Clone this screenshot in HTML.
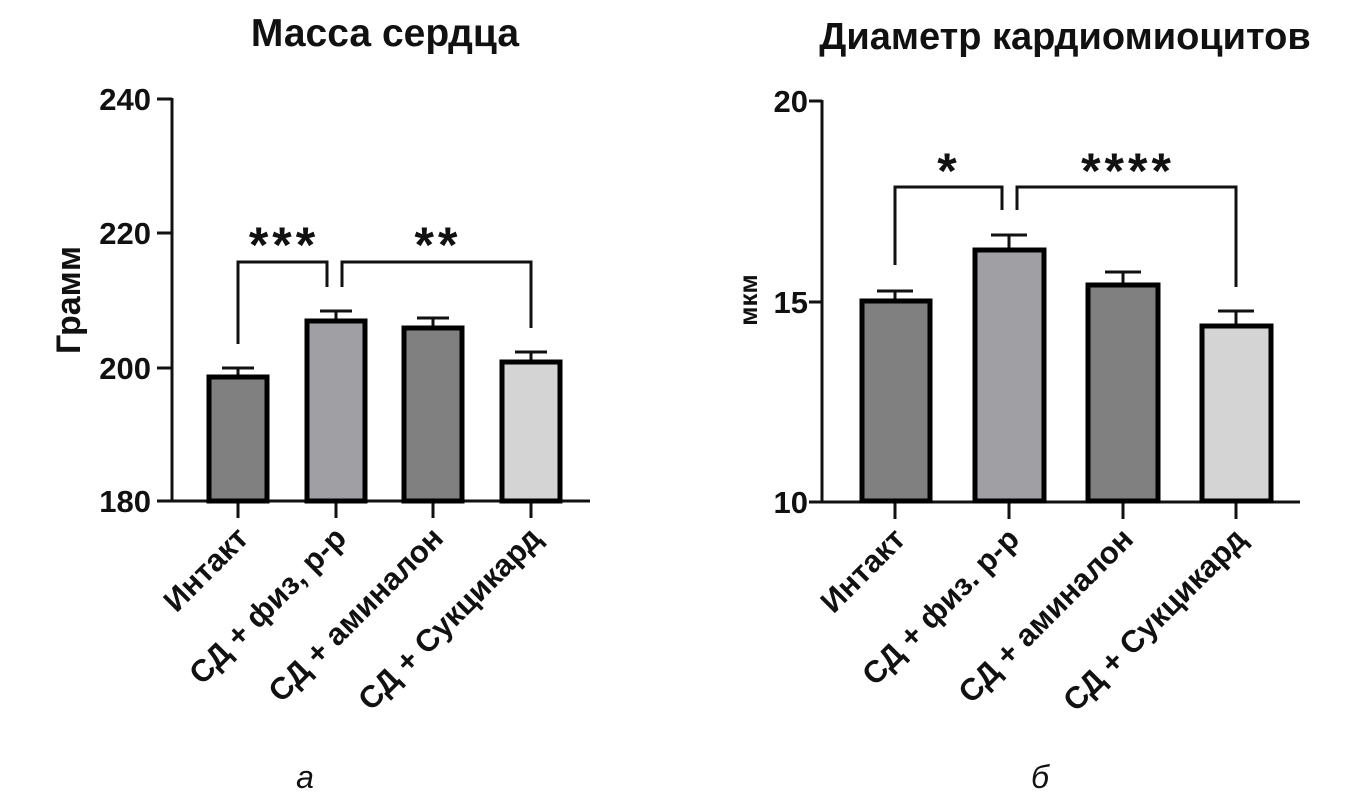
<!DOCTYPE html>
<html><head><meta charset="utf-8"><style>html,body{margin:0;padding:0;background:#fff}</style></head>
<body>
<svg width="1370" height="806" viewBox="0 0 1370 806" xmlns="http://www.w3.org/2000/svg" font-family="Liberation Sans, sans-serif">
<g font-weight="bold" fill="#111">
<text x="385" y="46" font-size="39" text-anchor="middle">Масса сердца</text>
<text x="1065" y="49" font-size="38" text-anchor="middle">Диаметр кардиомиоцитов</text>
</g>
<!-- LEFT -->
<g stroke="#111" stroke-width="3" fill="none">
<line x1="172" y1="98" x2="172" y2="502"/>
<line x1="172" y1="501" x2="590" y2="501"/>
<line x1="157" y1="99" x2="172" y2="99"/>
<line x1="157" y1="233" x2="172" y2="233"/>
<line x1="157" y1="368" x2="172" y2="368"/>
<line x1="157" y1="501" x2="172" y2="501"/>
<line x1="238" y1="501" x2="238" y2="518"/>
<line x1="336" y1="501" x2="336" y2="518"/>
<line x1="433" y1="501" x2="433" y2="518"/>
<line x1="531" y1="501" x2="531" y2="518"/>
<polyline points="238,344 238,262 327,262 327,287"/>
<polyline points="342,287 342,262 531,262 531,328"/>
<line x1="238" y1="375" x2="238" y2="368"/><line x1="222" y1="368" x2="254" y2="368"/>
<line x1="336" y1="319" x2="336" y2="311"/><line x1="320" y1="311" x2="352" y2="311"/>
<line x1="433" y1="326" x2="433" y2="318"/><line x1="417" y1="318" x2="449" y2="318"/>
<line x1="531" y1="360" x2="531" y2="352"/><line x1="515" y1="352" x2="547" y2="352"/>
</g>
<g stroke="#000" stroke-width="5">
<rect x="209" y="377" width="58" height="124" fill="#808080"/>
<rect x="307" y="321" width="58" height="180" fill="#a0a0a4"/>
<rect x="404" y="328" width="58" height="173" fill="#808080"/>
<rect x="502" y="362" width="58" height="139" fill="#d4d4d4"/>
</g>
<g font-weight="bold" font-size="31" fill="#111" text-anchor="end">
<text x="151" y="110">240</text>
<text x="151" y="244">220</text>
<text x="151" y="379">200</text>
<text x="151" y="512">180</text>
</g>
<text transform="translate(80,300) rotate(-90)" font-weight="bold" font-size="34" text-anchor="middle" fill="#111">Грамм</text>
<g font-weight="bold" font-size="50" fill="#111" text-anchor="middle" letter-spacing="4">
<text x="284" y="262">***</text>
<text x="438" y="262">**</text>
</g>
<g font-weight="bold" font-size="31" fill="#111" text-anchor="end">
<text transform="translate(250,540) rotate(-45)">Интакт</text>
<text transform="translate(348,540) rotate(-45)">СД + физ, р-р</text>
<text transform="translate(445,540) rotate(-45)">СД + аминалон</text>
<text transform="translate(543,540) rotate(-45)">СД + Сукцикард</text>
</g>
<!-- RIGHT -->
<g stroke="#111" stroke-width="3" fill="none">
<line x1="822" y1="100" x2="822" y2="503"/>
<line x1="822" y1="502" x2="1300" y2="502"/>
<line x1="809" y1="101" x2="822" y2="101"/>
<line x1="809" y1="302" x2="822" y2="302"/>
<line x1="809" y1="502" x2="822" y2="502"/>
<line x1="895" y1="502" x2="895" y2="519"/>
<line x1="1009" y1="502" x2="1009" y2="519"/>
<line x1="1123" y1="502" x2="1123" y2="519"/>
<line x1="1236" y1="502" x2="1236" y2="519"/>
<polyline points="895,265 895,187 1002,187 1002,210"/>
<polyline points="1017,210 1017,187 1236,187 1236,287"/>
<line x1="895" y1="299" x2="895" y2="291"/><line x1="877" y1="291" x2="913" y2="291"/>
<line x1="1009" y1="248" x2="1009" y2="235"/><line x1="991" y1="235" x2="1027" y2="235"/>
<line x1="1123" y1="283" x2="1123" y2="272"/><line x1="1105" y1="272" x2="1141" y2="272"/>
<line x1="1236" y1="324" x2="1236" y2="311"/><line x1="1218" y1="311" x2="1254" y2="311"/>
</g>
<g stroke="#000" stroke-width="5">
<rect x="862" y="301" width="68" height="200" fill="#808080"/>
<rect x="975" y="250" width="69" height="251" fill="#a0a0a4"/>
<rect x="1088" y="285" width="70" height="216" fill="#808080"/>
<rect x="1202" y="326" width="69" height="175" fill="#d4d4d4"/>
</g>
<g font-weight="bold" font-size="31" fill="#111" text-anchor="end">
<text x="808" y="112">20</text>
<text x="808" y="313">15</text>
<text x="808" y="513">10</text>
</g>
<text transform="translate(757,300) rotate(-90)" font-weight="bold" font-size="26" text-anchor="middle" fill="#111">мкм</text>
<g font-weight="bold" font-size="50" fill="#111" text-anchor="middle" letter-spacing="4">
<text x="949" y="188">*</text>
<text x="1128" y="188">****</text>
</g>
<g font-weight="bold" font-size="31" fill="#111" text-anchor="end">
<text transform="translate(907,541) rotate(-45)">Интакт</text>
<text transform="translate(1021,541) rotate(-45)">СД + физ. р-р</text>
<text transform="translate(1135,541) rotate(-45)">СД + аминалон</text>
<text transform="translate(1248,541) rotate(-45)">СД + Сукцикард</text>
</g>
<g font-style="italic" font-size="32" fill="#111" text-anchor="middle">
<text x="305" y="788">а</text>
<text x="1040" y="788">б</text>
</g>
</svg>
</body></html>
